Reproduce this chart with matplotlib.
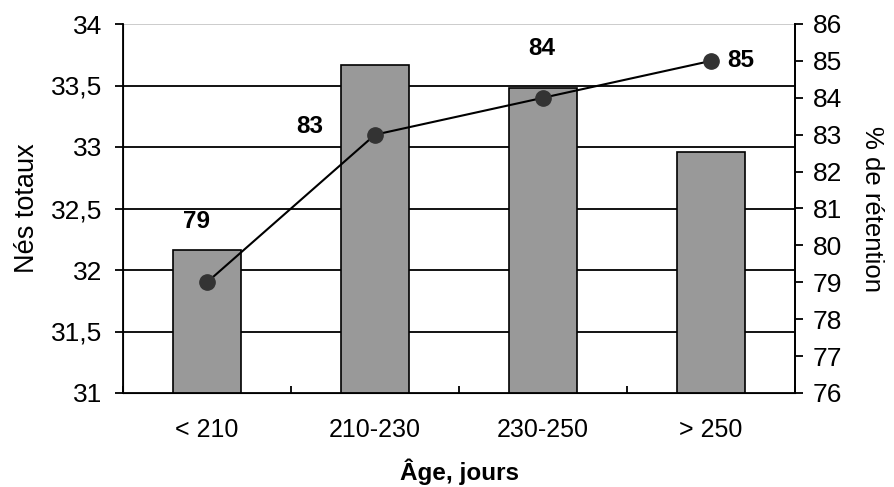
import matplotlib

matplotlib.use("Agg")
import matplotlib.pyplot as plt
import numpy as np

plt.rcParams["font.family"] = ["Liberation Sans", "DejaVu Sans"]

# Data
categories = ["< 210", "210-230", "230-250", "> 250"]
nes_totaux = [32.16, 33.67, 33.48, 32.96]
retention = [79, 83, 84, 85]
# label offsets (pixels) for the retention values, as placed in the original
label_offsets = [(-10, 61), (-65, 8), (-1, 49), (30, 0)]

fig = plt.figure(figsize=(8.94, 4.87), dpi=100)
ax = fig.add_axes([123 / 894, 1 - 393 / 487, (795 - 123) / 894, (393 - 24) / 487])
x = np.arange(len(categories))

# grid lines behind bars
for yv in np.arange(31.5, 34.0, 0.5):
    ax.axhline(yv, color="black", linewidth=1.3, zorder=0)
ax.axhline(34, color="#c8c8c8", linewidth=1.3, zorder=0)

ax.bar(x, nes_totaux, width=0.4, color="#999999", edgecolor="black",
       linewidth=1.2, zorder=2)
ax.set_xlim(-0.5, len(categories) - 0.5)
ax.set_ylim(31, 34)
ax.set_yticks(np.arange(31, 34.01, 0.5))
ax.set_yticklabels(["31", "31,5", "32", "32,5", "33", "33,5", "34"])
ax.set_xticks(x)
ax.set_xticklabels(categories)
ax.set_xticks(np.arange(-0.5, len(categories), 1.0), minor=True)
ax.tick_params(axis="x", which="major", length=0, pad=18, labelsize=18)
ax.tick_params(axis="x", which="minor", length=5, width=1.3, direction="in")
ax.tick_params(axis="y", length=6, width=1.3, labelsize=19, pad=9)
ax.spines["top"].set_visible(False)
for side in ("left", "right", "bottom"):
    ax.spines[side].set_linewidth(1.3)
ax.set_ylabel("Nés totaux", fontsize=19.5, labelpad=8)
ax.set_xlabel("Âge, jours", fontsize=17.5, fontweight="bold", labelpad=12)

ax2 = ax.twinx()
ax2.plot(x, retention, color="black", linewidth=1.5, marker="o",
         markersize=11, markerfacecolor="#333333", markeredgecolor="#333333",
         zorder=3)
ax2.set_ylim(76, 86)
ax2.set_yticks(np.arange(76, 87, 1))
ax2.tick_params(axis="y", length=6, width=1.3, labelsize=19, pad=7)
ax2.spines["top"].set_visible(False)
ax2.spines["right"].set_linewidth(1.3)
ax2.set_ylabel("% de rétention", fontsize=18.5, rotation=-90, labelpad=30)

for xi, yi, (dx, dy) in zip(x, retention, label_offsets):
    ax2.annotate(f"{yi}", (xi, yi), textcoords="offset pixels", xytext=(dx, dy),
                 ha="center", va="center", fontsize=17.5, fontweight="bold")

fig.savefig("out.png", dpi=100)
